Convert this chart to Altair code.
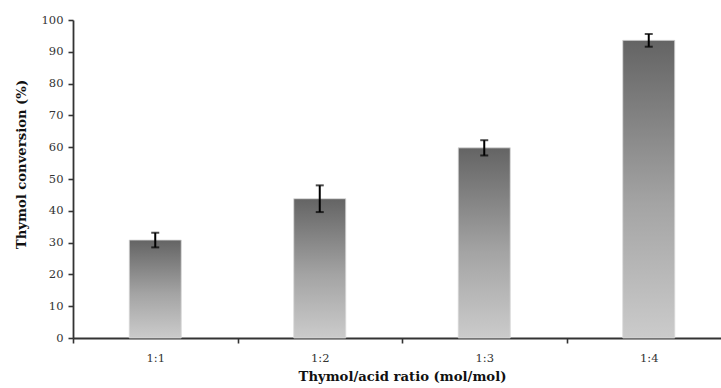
import altair as alt
import pandas as pd

categories = ["1:1", "1:2", "1:3", "1:4"]
conversion = [30.8, 43.8, 59.8, 93.6]
error = [2.3, 4.2, 2.4, 2.0]
y_ticks = [0, 10, 20, 30, 40, 50, 60, 70, 80, 90, 100]

df = pd.DataFrame({"ratio": categories, "conv": conversion, "err": error})
df["lo"] = df["conv"] - df["err"]
df["hi"] = df["conv"] + df["err"]

FONT = "DejaVu Serif"
AXC = "#333333"

xscale = alt.Scale(domain=categories, range=[0, 658], paddingInner=0, paddingOuter=0)
yscale = alt.Scale(domain=[0, 100], nice=False)

x_axis = alt.Axis(
    title="Thymol/acid ratio (mol/mol)", labelAngle=0, tickBand="extent", tickSize=5,
    labelFont=FONT, labelFontSize=11.5, labelColor="#333333", labelPadding=9,
    titleFont=FONT, titleFontSize=13.2, titleFontWeight="bold", titleColor="#111111",
    titlePadding=7, domainColor=AXC, tickColor=AXC, domainWidth=1.8, tickWidth=1.6,
    grid=False,
)
y_axis = alt.Axis(
    title="Thymol conversion (%)", values=y_ticks, tickSize=5,
    labelFont=FONT, labelFontSize=11.5, labelColor="#333333", labelPadding=5,
    titleFont=FONT, titleFontSize=13.2, titleFontWeight="bold", titleColor="#111111",
    titleX=-52, titleY=144, titleBaseline="middle", titleAlign="center",
    domainColor=AXC, tickColor=AXC, domainWidth=1.8, tickWidth=1.6, grid=False,
)

gradient = alt.Gradient(
    gradient="linear", x1=0, y1=0, x2=0, y2=1,
    stops=[
        alt.GradientStop(color="#646464", offset=0),
        alt.GradientStop(color="#a4a4a4", offset=0.55),
        alt.GradientStop(color="#cbcbcb", offset=1),
    ],
)

base = alt.Chart(df)
xs = alt.X("ratio:N", scale=xscale, sort=categories, axis=x_axis)

bars = base.mark_bar(size=52, color=gradient, stroke="#d8d8d8", strokeWidth=0.8).encode(
    x=xs,
    y=alt.Y("conv:Q", scale=yscale, axis=y_axis),
)
rules = base.mark_rule(color="black", strokeWidth=2).encode(
    x=xs, y=alt.Y("lo:Q", scale=yscale, axis=y_axis), y2="hi:Q"
)
caps_hi = base.mark_tick(color="black", thickness=2, size=8, orient="horizontal").encode(
    x=xs, y=alt.Y("hi:Q", scale=yscale, axis=y_axis)
)
caps_lo = base.mark_tick(color="black", thickness=2, size=8, orient="horizontal").encode(
    x=xs, y=alt.Y("lo:Q", scale=yscale, axis=y_axis)
)

chart = (
    alt.layer(bars, rules, caps_hi, caps_lo)
    .properties(
        width=648, height=318,
        autosize=alt.AutoSizeParams(type="none"),
        padding={"left": 73, "top": 20, "right": 0, "bottom": 50},
        background="white",
    )
    .configure_view(stroke=None)
)

chart.save("out.html", embed_options={"renderer": "svg", "actions": False})
